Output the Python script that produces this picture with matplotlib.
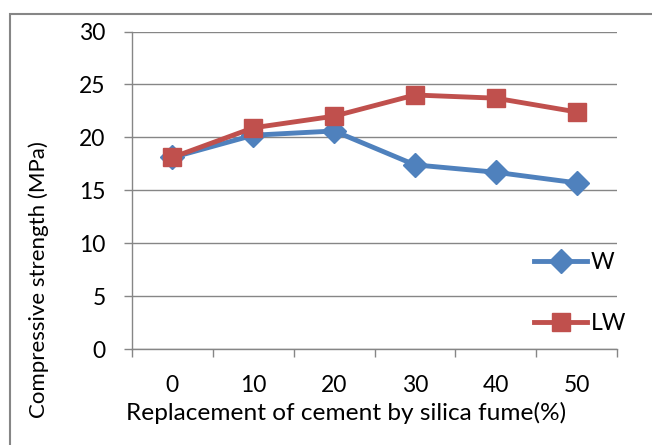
import matplotlib
matplotlib.use('Agg')
import matplotlib.pyplot as plt
from matplotlib.lines import Line2D
from matplotlib.patches import Rectangle
import numpy as np

plt.rcParams['font.family'] = ['Lato', 'DejaVu Sans']

# Compressive strength vs silica fume replacement
replacement = ['0', '10', '20', '30', '40', '50']
strength_w = [18.1, 20.2, 20.6, 17.4, 16.7, 15.7]
strength_lw = [18.1, 20.9, 22.0, 24.0, 23.7, 22.4]

blue = '#4F81BD'
red = '#C0504D'
grey = '#868686'

W, H = 652, 445
fig = plt.figure(figsize=(W / 100, H / 100), dpi=100)
ax = fig.add_axes([132 / W, 1 - 349 / H, 485 / W, 317.5 / H])

x = np.arange(len(replacement))
ax.plot(x, strength_w, color=blue, lw=3.5, marker='D', ms=12, label='W', zorder=3)
ax.plot(x, strength_lw, color=red, lw=3.5, marker='s', ms=13.5, label='LW', zorder=4)

ax.set_xlim(-0.5, len(replacement) - 0.5)
ax.set_ylim(0, 30)
ax.set_yticks(range(0, 31, 5))
ax.yaxis.grid(True, color=grey, lw=1)
ax.set_axisbelow(True)

ax.set_xticks(x)
ax.set_xticklabels(replacement)
ax.set_xticks(np.arange(-0.5, len(replacement)), minor=True)
ax.tick_params(axis='x', which='major', length=0, pad=19, labelsize=16.5)
ax.tick_params(axis='x', which='minor', length=6, width=1, color=grey, direction='out')
ax.tick_params(axis='y', length=6, width=1, color=grey, pad=13, labelsize=16.5)

for s in ['top', 'right']:
    ax.spines[s].set_visible(False)
for s in ['left', 'bottom']:
    ax.spines[s].set_color(grey)
    ax.spines[s].set_linewidth(1)

fig.text(346 / W, 1 - 413 / H, 'Replacement of cement by silica fume(%)',
         ha='center', va='center', fontsize=17.6)
fig.text(39 / W, 1 - 280 / H, 'Compressive strength (MPa)',
         ha='center', va='center', rotation=90, fontsize=16)

handles = [Line2D([], [], color=blue, lw=3.5, marker='D', ms=12),
           Line2D([], [], color=red, lw=3.5, marker='s', ms=13.5)]
fig.legend(handles, ['W', 'LW'], loc='center left',
           bbox_to_anchor=(523 / W, 1 - 293 / H), frameon=False,
           fontsize=16.5, handlelength=2.3, handletextpad=0.15,
           labelspacing=1.75, borderpad=0)

# chart frame
fig.add_artist(Rectangle((10 / W, -0.1), 1.1, 1 - 14 / H + 0.1,
                         transform=fig.transFigure, fill=False,
                         edgecolor=grey, lw=1.5))

fig.savefig('out.png', dpi=100, facecolor='white')
